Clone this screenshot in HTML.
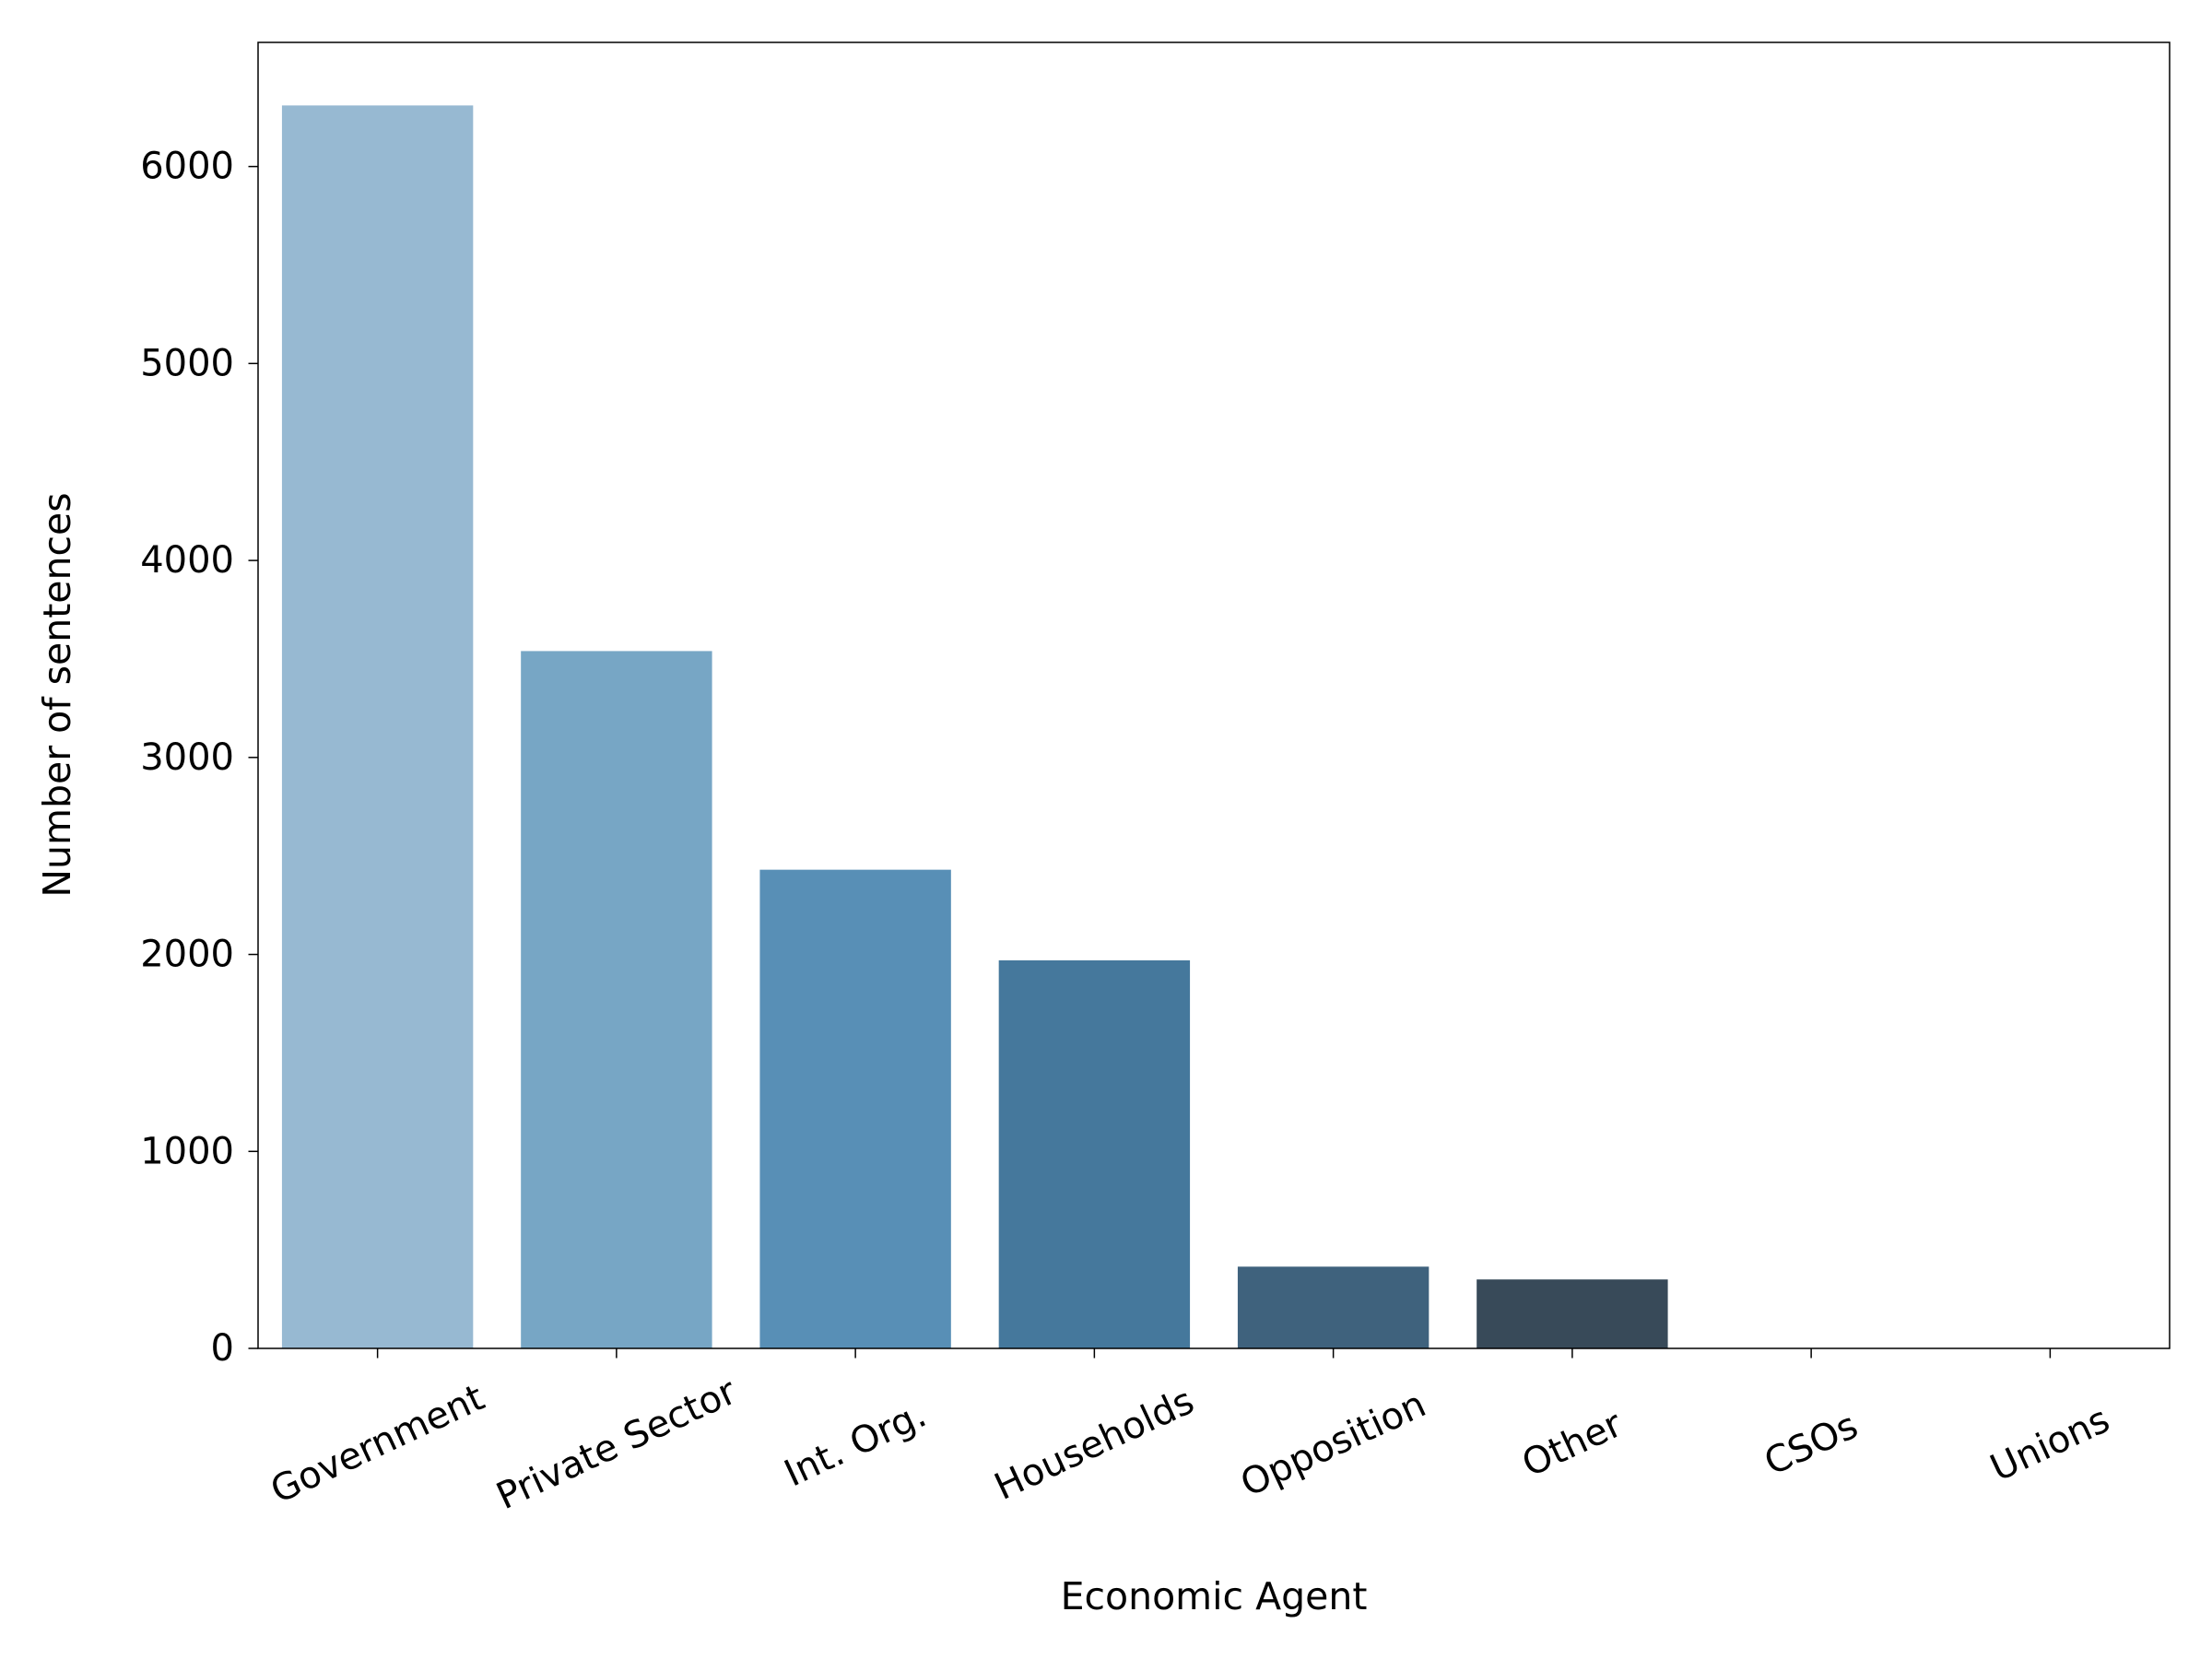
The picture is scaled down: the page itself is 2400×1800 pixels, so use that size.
<!DOCTYPE html>
<html><head><meta charset="utf-8"><style>
html,body{margin:0;padding:0;background:#fff;}
svg{display:block;font-family:"DejaVu Sans","Liberation Sans",sans-serif;}
</style></head><body>
<svg id="chart" width="2400" height="1800" viewBox="0 0 2400 1800" xmlns="http://www.w3.org/2000/svg">
<rect width="2400" height="1800" fill="#fff"/>
<g id="bars"></g>
<g id="axes"></g>
<text x="1317" y="1746" text-anchor="middle" font-size="41">Economic Agent</text>
<text transform="translate(76,754) rotate(-90)" text-anchor="middle" font-size="41">Number of sentences</text>
</svg>
<script>
const categories = ["Government","Private Sector","Int. Org.","Households","Opposition","Other","CSOs","Unions"];
const values = [6310, 3540, 2430, 1970, 415, 350, 1, 1];
const colors = ["#97b9d2","#77a6c5","#588fb6","#45789c","#3f627d","#384a59","#2e3338","#2a2a2a"];
const yTicks = [0,1000,2000,3000,4000,5000,6000];

const L=280, R=2354, T=46, B=1463, yMax=6630;
const ns="http://www.w3.org/2000/svg";
const yScale=v=>B-(v/yMax)*(B-T);
const band=(R-L)/categories.length;
const xCenter=i=>L+band*(i+0.5);
const bw=band*0.8;
const bars=document.getElementById('bars');
const axes=document.getElementById('axes');
function mk(tag,attrs,parent){const e=document.createElementNS(ns,tag);for(const k in attrs)e.setAttribute(k,attrs[k]);parent.appendChild(e);return e;}

categories.forEach((c,i)=>{
  const r=mk('rect',{x:xCenter(i)-bw/2,y:yScale(values[i]),width:bw,height:B-yScale(values[i]),fill:colors[i]},bars);
  
  
  const t=mk('line',{x1:xCenter(i),x2:xCenter(i),y1:B,y2:B+10.5,stroke:'#000','stroke-width':1.5},axes);
  
  
  const lb=mk('text',{transform:`translate(${xCenter(i)},${B+104}) rotate(-25)`,'text-anchor':'middle','dominant-baseline':'central','font-size':40},axes);
  lb.textContent=c;
  
  
});
yTicks.forEach(v=>{
  const y=yScale(v);
  const t=mk('line',{x1:L-10.5,x2:L,y1:y,y2:y,stroke:'#000','stroke-width':1.5},axes);
  
  
  const lb=mk('text',{x:L-26,y:y,'text-anchor':'end','dominant-baseline':'central','font-size':40},axes);
  lb.textContent=v;
  
  
});
const fr=mk('rect',{x:L,y:T,width:R-L,height:B-T,fill:'none',stroke:'#000','stroke-width':1.5},axes);


</script>
</body></html>
